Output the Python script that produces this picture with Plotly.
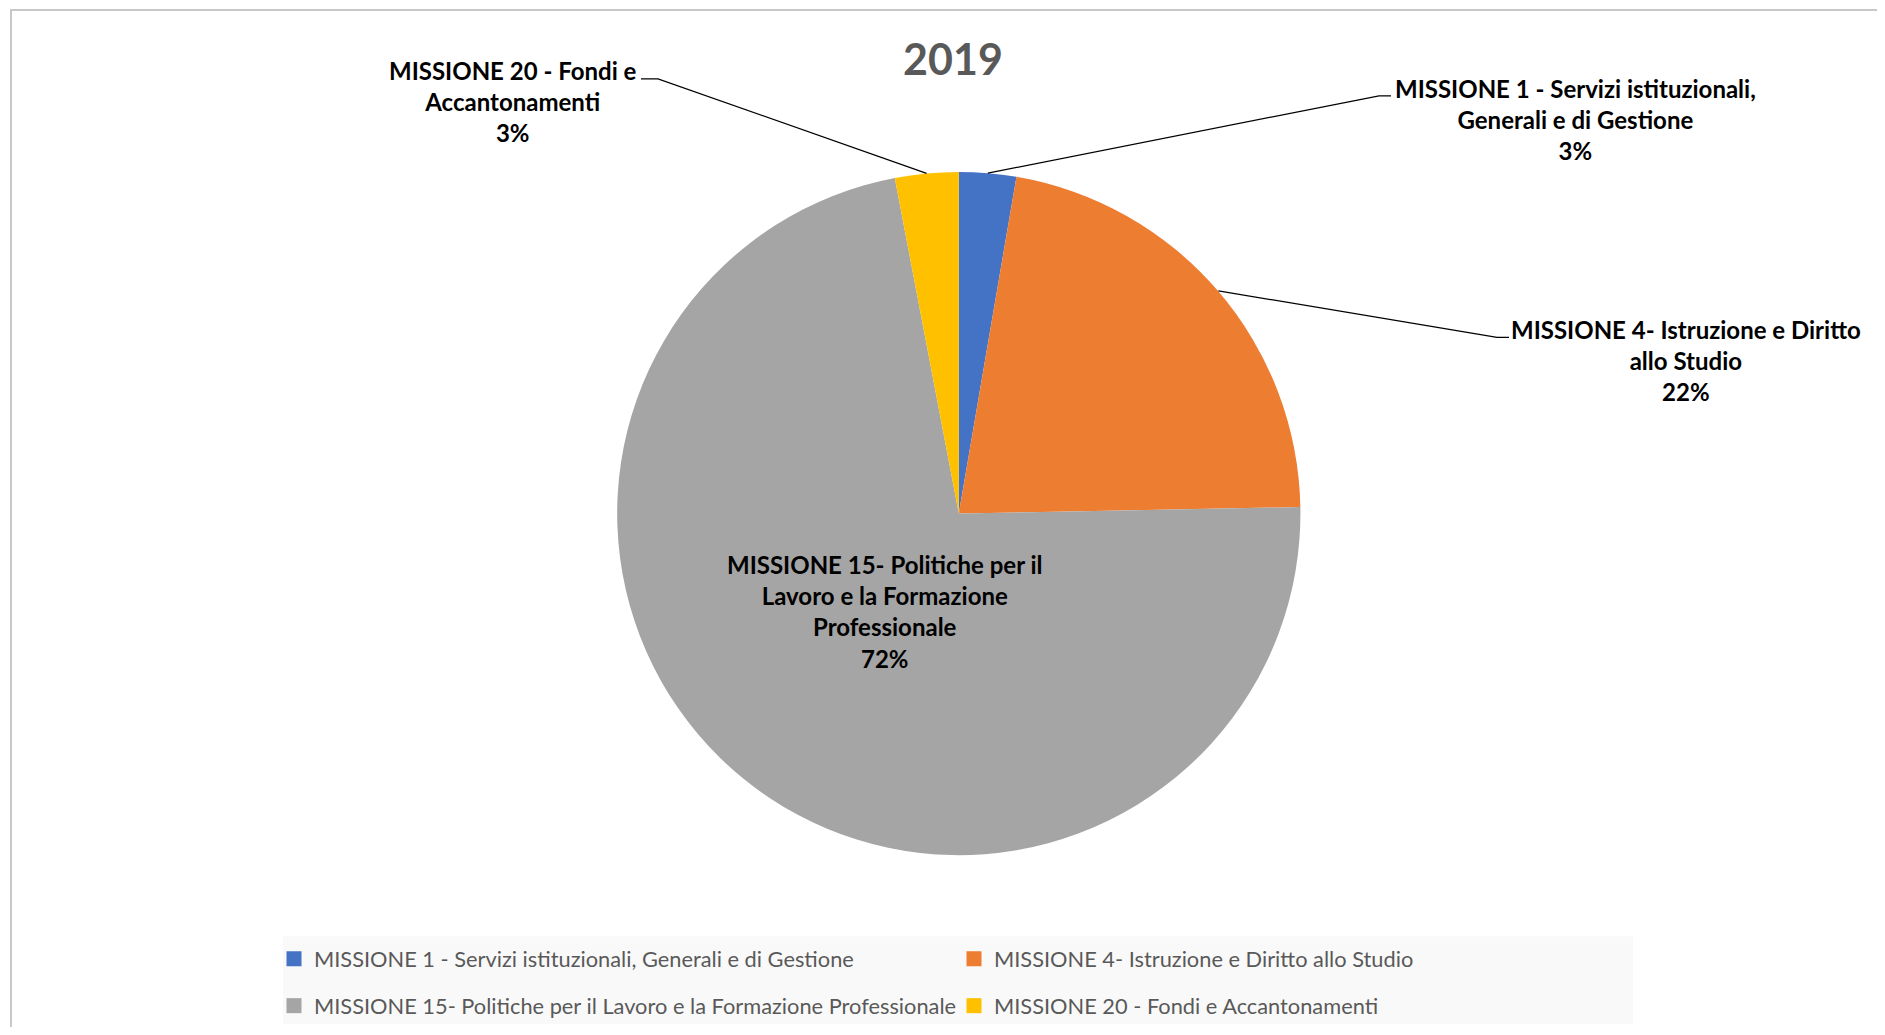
import math
import plotly.graph_objects as go

# screen size and the browser's default 8px body margin
W, H = 1885, 1035
OFF = 8
FW, FH = W - 2 * OFF, H - 2 * OFF

# ---------------- data ----------------
title_text = "2019"
categories = [
    "MISSIONE 1 - Servizi istituzionali, Generali e di Gestione",
    "MISSIONE 4- Istruzione e Diritto allo Studio",
    "MISSIONE 15- Politiche per il Lavoro e la Formazione Professionale",
    "MISSIONE 20 - Fondi e Accantonamenti",
]
values = [2.7, 22.0, 72.3, 3.0]
label_text = [
    "MISSIONE 1 - Servizi istituzionali,<br>Generali e di Gestione",
    "MISSIONE 4- Istruzione e Diritto<br>allo Studio",
    "MISSIONE 15- Politiche per il<br>Lavoro e la Formazione<br>Professionale",
    "MISSIONE 20 - Fondi e<br>Accantonamenti",
]
colors = ["#4472C4", "#ED7D31", "#A5A5A5", "#FFC000"]

# ---------------- layout constants (screen pixels) ----------------
pie_cx, pie_cy, pie_r = 958.8, 514.5, 342.3
label_pos = [(1575, 120), (1686, 361), (885, 613), (513, 102)]
leader_elbows = [[(1379, 96), (1391, 96)], [(1497, 338), (1509, 338)], None, [(658, 79), (641, 79)]]
LABEL_FONT = "Lato"
LABEL_SIZE = 24


def X(px):
    return (px - OFF) / FW


def Y(py):
    return 1 - (py - OFF) / FH


fig = go.Figure()

fig.add_trace(go.Pie(
    labels=categories,
    values=values,
    sort=False,
    direction="clockwise",
    rotation=0,
    marker=dict(colors=colors, line=dict(width=0)),
    textinfo="none",
    hoverinfo="label+percent",
    showlegend=False,
    domain=dict(x=[X(pie_cx - pie_r), X(pie_cx + pie_r)],
                y=[Y(pie_cy + pie_r), Y(pie_cy - pie_r)]),
))

# legend entries (two rows, as two legends)
for i, (cat, col) in enumerate(zip(categories, colors)):
    fig.add_trace(go.Scatter(
        x=[None], y=[None], mode="markers",
        marker=dict(symbol="square", size=15, color=col),
        name=cat, showlegend=True,
        legend="legend" if i < 2 else "legend2",
        hoverinfo="skip",
    ))

total = sum(values)
annotations = []
shapes = []
cum = 0.0
for i, v in enumerate(values):
    pct = round(v / total * 100)
    lx, ly = label_pos[i]
    annotations.append(dict(
        text=f"{label_text[i]}<br>{pct}%",
        x=X(lx), y=Y(ly), xref="paper", yref="paper",
        xanchor="center", yanchor="middle", align="center",
        showarrow=False,
        font=dict(family=LABEL_FONT, size=LABEL_SIZE, color="#000000", weight="bold"),
    ))
    mid = 2 * math.pi * (cum + v / 2) / total
    cum += v
    if leader_elbows[i] is not None:
        ex = pie_cx + pie_r * math.sin(mid)
        ey = pie_cy - pie_r * math.cos(mid)
        pts = [(ex, ey)] + leader_elbows[i]
        path = "M " + " L ".join(f"{X(px)},{Y(py)}" for px, py in pts)
        shapes.append(dict(type="path", path=path, xref="paper", yref="paper",
                           line=dict(color="#000000", width=1.2)))

# chart border and legend background
shapes.append(dict(type="rect", xref="paper", yref="paper", layer="below",
                   x0=X(11), x1=X(1950), y0=Y(1100), y1=Y(10),
                   line=dict(color="#C8C8C8", width=2), fillcolor="rgba(0,0,0,0)"))
shapes.append(dict(type="rect", xref="paper", yref="paper", layer="below",
                   x0=X(283), x1=X(1633), y0=Y(1026), y1=Y(938),
                   line=dict(width=0), fillcolor="#F9F9F9"))

legend_common = dict(
    orientation="h", xanchor="left", yanchor="middle",
    entrywidth=635, entrywidthmode="pixels",
    bgcolor="rgba(0,0,0,0)", borderwidth=0,
    font=dict(family="Lato", size=21.8, color="#595959"),
    itemclick=False, itemdoubleclick=False,
)

fig.update_layout(
    width=FW, height=FH,
    margin=dict(l=0, r=0, t=0, b=0),
    paper_bgcolor="#FFFFFF", plot_bgcolor="#FFFFFF",
    title=dict(text=title_text, x=X(953), y=Y(60), xref="paper", yref="paper",
               xanchor="center", yanchor="middle",
               font=dict(family="Lato", size=43, color="#595959", weight="bold")),
    xaxis=dict(visible=False), yaxis=dict(visible=False),
    annotations=annotations,
    shapes=shapes,
    legend=dict(x=X(274), y=Y(961), **legend_common),
    legend2=dict(x=X(274), y=Y(1008), **legend_common),
    hovermode=False,
)

fig.write_html("out.html")
